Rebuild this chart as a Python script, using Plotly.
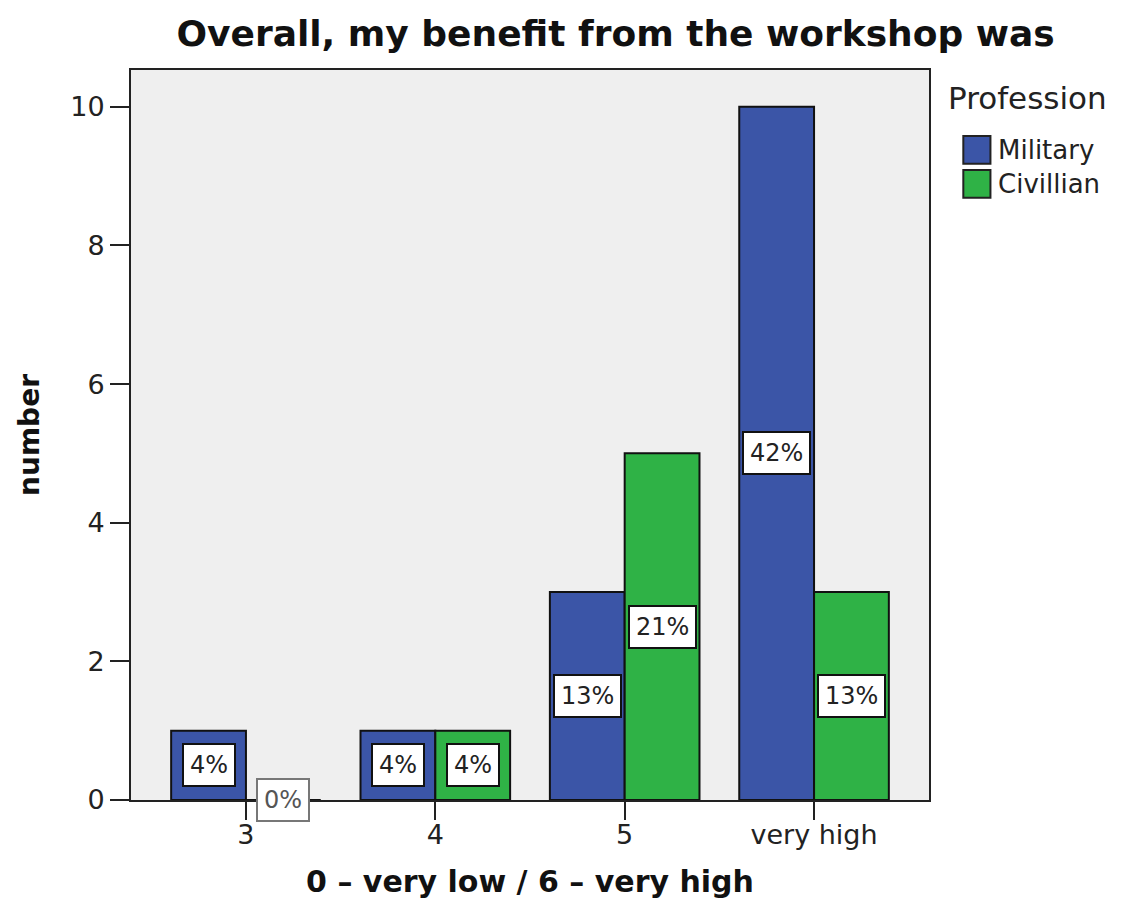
import plotly.graph_objects as go

categories = ["3", "4", "5", "very high"]
series_names = ["Military", "Civillian"]
military = [1, 1, 3, 10]
civilian = [0, 1, 5, 3]
y_ticks = [0, 2, 4, 6, 8, 10]
colors = ["#3B55A7", "#2FB246"]

title_text = "Overall, my benefit from the workshop was"
x_title = "0 \u2013 very low / 6 \u2013 very high"
y_title = "number"
legend_title = "Profession"

FONT = "DejaVu Sans"
series = [military, civilian]
total = sum(military) + sum(civilian)
bar_w = 0.395

fig = go.Figure()
for k, (name, vals, col) in enumerate(zip(series_names, series, colors)):
    fig.add_trace(go.Bar(
        x=categories, y=vals, name=name,
        width=bar_w, offset=-bar_w if k == 0 else 0,
        marker=dict(color=col, line=dict(color="#111111", width=2)),
        showlegend=False, hoverinfo="skip",
    ))

annotations = []
for k, vals in enumerate(series):
    for i, v in enumerate(vals):
        pct = int(v * 100 / total + 0.5)
        xc = i - bar_w / 2 if k == 0 else i + bar_w / 2
        annotations.append(dict(
            x=xc, y=v / 2, xref="x", yref="y", text=f"{pct}%", showarrow=False,
            font=dict(family=FONT, size=24, color="#222222" if v > 0 else "#555555"),
            bgcolor="white", bordercolor="#111111" if v > 0 else "#777777",
            borderwidth=2, borderpad=6,
        ))

# legend (drawn in paper coordinates)
annotations.append(dict(
    x=1.021, y=0.962, xref="paper", yref="paper", xanchor="left", yanchor="middle",
    text=legend_title, showarrow=False, font=dict(family=FONT, size=31, color="#222222"),
))
shapes = []
for k, (name, col) in enumerate(zip(series_names, colors)):
    yc = 0.8906 - k * 0.0466
    shapes.append(dict(type="rect", xref="paper", yref="paper",
                       x0=1.043, x1=1.077, y0=yc - 0.019, y1=yc + 0.019,
                       fillcolor=col, line=dict(color="#222222", width=2)))
    annotations.append(dict(
        x=1.084, y=yc, xref="paper", yref="paper", xanchor="left", yanchor="middle",
        text=name, showarrow=False, font=dict(family=FONT, size=26, color="#222222"),
    ))

fig.update_layout(
    width=1121, height=901,
    margin=dict(l=123, r=200, t=62, b=109),
    paper_bgcolor="white", plot_bgcolor="#EFEFEF",
    barmode="group",
    title=dict(text=title_text, x=0.542, xanchor="center", y=0.972, yanchor="middle",
               font=dict(family=FONT, size=36, color="#111111", weight="bold")),
    font=dict(family=FONT, color="#222222"),
    annotations=annotations, shapes=shapes,
    xaxis=dict(
        type="category", categoryarray=categories, categoryorder="array",
        range=[-0.607, 3.607],
        showline=True, linecolor="#222222", linewidth=2, mirror=True,
        ticks="outside", ticklen=18, tickwidth=2, tickcolor="#222222",
        ticklabelstandoff=-8,
        tickfont=dict(family=FONT, size=27, color="#222222"),
        showgrid=False, zeroline=False,
        title=dict(text=x_title, font=dict(family=FONT, size=30, color="#111111", weight="bold"),
                   standoff=22),
    ),
    yaxis=dict(
        range=[0, 10.53], tickvals=y_ticks,
        showline=True, linecolor="#222222", linewidth=2, mirror=True,
        ticks="outside", ticklen=19, tickwidth=2, tickcolor="#222222",
        tickfont=dict(family=FONT, size=27, color="#222222"),
        showgrid=False, zeroline=False,
        title=dict(text=y_title, font=dict(family=FONT, size=28, color="#111111", weight="bold"),
                   standoff=22),
    ),
)

fig.write_html("out.html")
